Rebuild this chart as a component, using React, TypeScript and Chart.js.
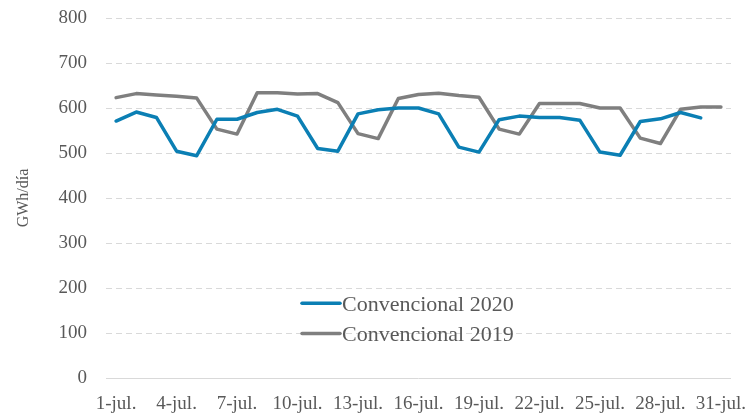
import React, { useEffect, useRef } from 'react';
import { Chart, registerables } from 'chart.js';

Chart.register(...registerables);

const categories = [
  '1-jul.', '2-jul.', '3-jul.', '4-jul.', '5-jul.', '6-jul.', '7-jul.', '8-jul.', '9-jul.', '10-jul.',
  '11-jul.', '12-jul.', '13-jul.', '14-jul.', '15-jul.', '16-jul.', '17-jul.', '18-jul.', '19-jul.', '20-jul.',
  '21-jul.', '22-jul.', '23-jul.', '24-jul.', '25-jul.', '26-jul.', '27-jul.', '28-jul.', '29-jul.', '30-jul.', '31-jul.',
];

const convencional2020 = [
  571, 591, 579, 504, 494, 575, 575, 590, 597, 582,
  510, 504, 587, 596, 600, 600, 587, 513, 502, 574,
  582, 579, 579, 573, 502, 495, 570, 576, 590, 578, null,
];

const convencional2019 = [
  623, 632, 629, 626, 622, 553, 542, 634, 634, 631,
  632, 612, 543, 532, 621, 630, 633, 628, 624, 553,
  542, 610, 610, 610, 600, 600, 533, 521, 597, 602, 602,
];

const yTicks = [0, 100, 200, 300, 400, 500, 600, 700, 800];

const FONT = '"Liberation Serif", "Times New Roman", serif';
const TEXT = '#595959';
const BLUE = '#0b7fb4';
const GRAY = '#7f7f7f';

const insideLegend = {
  id: 'insideLegend',
  afterDraw(chart: any) {
    const { ctx, chartArea } = chart;
    const w = chartArea.right - chartArea.left;
    const h = chartArea.bottom - chartArea.top;
    const x0 = chartArea.left + w * 0.3136;
    ctx.save();
    ctx.font = '22px ' + FONT;
    ctx.textBaseline = 'alphabetic';
    ctx.textAlign = 'left';
    chart.data.datasets.forEach((ds: any, i: number) => {
      const y = chartArea.top + h * 0.7925 + i * 30.3;
      ctx.strokeStyle = ds.borderColor;
      ctx.lineWidth = 3.5;
      ctx.lineCap = 'round';
      ctx.beginPath();
      ctx.moveTo(x0, y);
      ctx.lineTo(x0 + 38, y);
      ctx.stroke();
      ctx.fillStyle = TEXT;
      ctx.fillText(ds.label, x0 + 40, y + 7.3);
    });
    ctx.restore();
  },
};

export default function App() {
  const ref = useRef<HTMLCanvasElement>(null);

  useEffect(() => {
    document.body.style.margin = '0';
    const canvas = ref.current;
    if (!canvas) return;
    const chart = new Chart(canvas, {
      type: 'line',
      data: {
        labels: categories,
        datasets: [
          {
            label: 'Convencional 2020',
            data: convencional2020,
            borderColor: BLUE,
            backgroundColor: BLUE,
            borderWidth: 3.5,
            pointRadius: 0,
            tension: 0,
            borderJoinStyle: 'round',
            borderCapStyle: 'round',
            spanGaps: false,
          },
          {
            label: 'Convencional 2019',
            data: convencional2019,
            borderColor: GRAY,
            backgroundColor: GRAY,
            borderWidth: 3.5,
            pointRadius: 0,
            tension: 0,
            borderJoinStyle: 'round',
            borderCapStyle: 'round',
          },
        ],
      },
      options: {
        responsive: false,
        animation: false,
        devicePixelRatio: 1,
        layout: { padding: { top: 18, right: 21, left: 0, bottom: 0 } },
        plugins: {
          legend: { display: false },
          tooltip: { enabled: false },
        },
        scales: {
          x: {
            offset: true,
            grid: { display: false, drawTicks: false },
            border: { display: false },
            ticks: {
              autoSkip: false,
              maxRotation: 0,
              minRotation: 0,
              padding: 15,
              color: TEXT,
              font: { family: FONT, size: 19 },
              callback: (_v: any, i: number) => (i % 3 === 0 ? categories[i] : ''),
            },
            afterFit: (scale: any) => {
              scale.height = 37;
              scale.paddingLeft = 0;
              scale.paddingRight = 0;
            },
          },
          y: {
            min: 0,
            max: 800,
            afterBuildTicks: (scale: any) => {
              scale.ticks = yTicks.map((v) => ({ value: v }));
            },
            grid: { color: '#d9d9d9', lineWidth: 1, drawTicks: false },
            border: {
              display: false,
              dash: (ctx: any) => (ctx.tick && ctx.tick.value === 0 ? [] : [6, 4]),
            },
            ticks: {
              padding: 19,
              color: TEXT,
              font: { family: FONT, size: 19 },
            },
            title: {
              display: true,
              text: 'GWh/día',
              color: TEXT,
              font: { family: FONT, size: 16 },
              padding: { top: 14, bottom: 0 },
            },
            afterFit: (scale: any) => {
              scale.width = 106;
              scale.paddingTop = 0;
              scale.paddingBottom = 0;
            },
          },
        },
      },
      plugins: [insideLegend],
    });
    return () => chart.destroy();
  }, []);

  return (
    <div style={{ width: 752, height: 415 }}>
      <canvas ref={ref} width={752} height={415} style={{ display: 'block' }} />
    </div>
  );
}
